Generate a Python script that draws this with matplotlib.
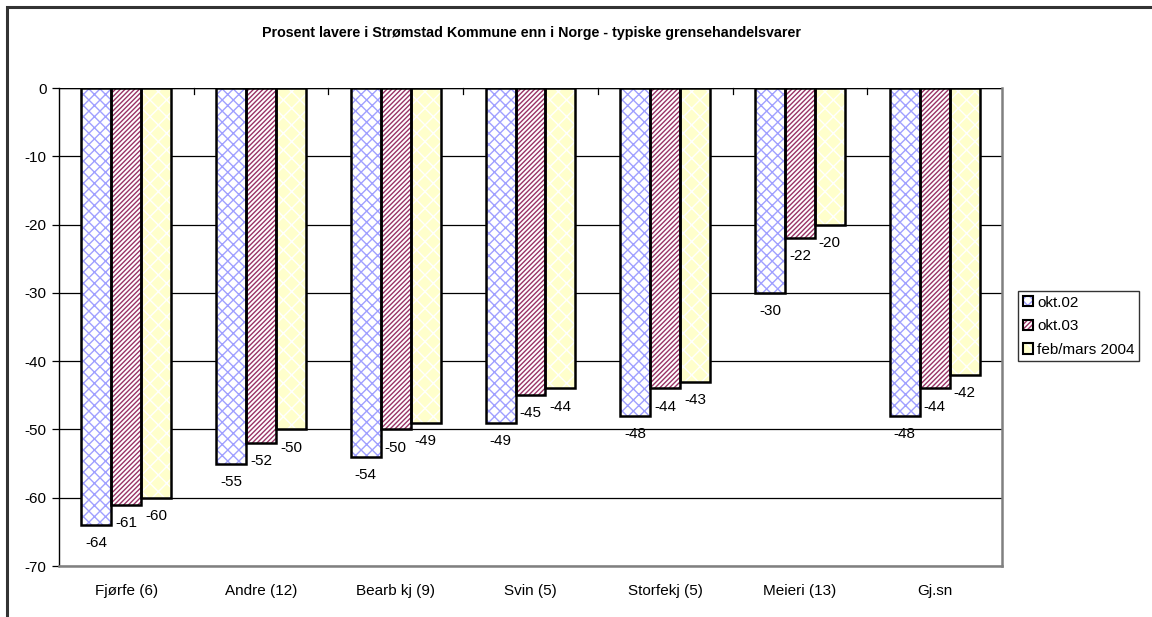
import matplotlib
matplotlib.use("Agg")
import matplotlib.pyplot as plt
import numpy as np
from matplotlib.patches import Rectangle, Patch
from matplotlib.legend_handler import HandlerTuple

plt.rcParams['font.family'] = ['Liberation Sans', 'DejaVu Sans']

categories = ["Fjørfe (6)", "Andre (12)", "Bearb kj (9)", "Svin (5)", "Storfekj (5)", "Meieri (13)", "Gj.sn"]
series_names = ["okt.02", "okt.03", "feb/mars 2004"]
okt02 = [-64, -55, -54, -49, -48, -30, -48]
okt03 = [-61, -52, -50, -45, -44, -22, -44]
feb04 = [-60, -50, -49, -44, -43, -20, -42]
title = "Prosent lavere i Strømstad Kommune enn i Norge - typiske grensehandelsvarer"

series = [okt02, okt03, feb04]
styles = [
    dict(facecolor="white", hatchcolor="#A0A0FF", hatch="xxx"),
    dict(facecolor="white", hatchcolor="#993366", hatch="///////"),
    dict(facecolor="#FFFFCC", hatchcolor="white", hatch="xx"),
]

W, H = 1152, 617
fig = plt.figure(figsize=(W / 100, H / 100), dpi=100)
fig.patch.set_facecolor("white")
# outer chart frame
fig.add_artist(Rectangle((7 / W, -0.05), 1.1, 1 - 7 / H + 0.05, transform=fig.transFigure,
                         fill=False, edgecolor="#333333", linewidth=2.2))

ax = fig.add_axes([59 / W, 1 - 566 / H, (1002 - 59) / W, (566 - 88) / H])
ax.set_xlim(0, len(categories))
ax.set_ylim(-70, 0)

x = np.arange(len(categories)) + 0.5
bw = 1 / 4.5
handles = []
plt.rcParams['hatch.linewidth'] = 1.0
for i, (vals, st, name) in enumerate(zip(series, styles, series_names)):
    xpos = x + (i - 1) * bw
    ax.bar(xpos, vals, width=bw, color=st["facecolor"], edgecolor=st["hatchcolor"],
           hatch=st["hatch"], linewidth=0, zorder=3)
    ax.bar(xpos, vals, width=bw, fill=False, edgecolor="black", linewidth=1.8, zorder=4)
    for xp, v in zip(xpos, vals):
        ax.annotate(f"{v}", (xp, v), xytext=(0, -8), textcoords="offset points",
                    ha="center", va="top", fontsize=11, zorder=6)
    p1 = Patch(facecolor=st["facecolor"], edgecolor=st["hatchcolor"], hatch=st["hatch"], linewidth=0)
    p2 = Patch(fill=False, edgecolor="black", linewidth=1.5)
    handles.append((p1, p2))

# gridlines
ax.set_yticks(np.arange(-70, 1, 10))
ax.yaxis.grid(True, color="black", linewidth=0.9, zorder=1)
ax.set_axisbelow(True)
ax.tick_params(axis="y", direction="out", length=5, width=0.9, labelsize=11, pad=4)
ax.set_yticklabels([str(v) for v in range(-70, 1, 10)])

# category labels at bottom without ticks
ax.set_xticks(x)
ax.set_xticklabels(categories, fontsize=11)
ax.tick_params(axis="x", length=0, pad=13)

# category boundary ticks along the zero line
for b in range(1, len(categories)):
    ax.plot([b, b], [0, -0.9], color="black", linewidth=0.9, zorder=2, clip_on=False)

for s in ["top", "right", "bottom"]:
    ax.spines[s].set_color("#808080")
    ax.spines[s].set_linewidth(1.8)
ax.spines["top"].set_visible(False)
ax.axhline(0, color="black", linewidth=1.0, zorder=2)
ax.spines["left"].set_color("black")
ax.spines["left"].set_linewidth(1.0)

fig.text(531 / W, 1 - 33 / H, title, ha="center", va="center", fontsize=10.3, fontweight="bold")

leg = fig.legend(handles, series_names, handler_map={tuple: HandlerTuple(ndivide=1, pad=0)},
                 loc="upper left", bbox_to_anchor=(1018 / W, 1 - 291 / H),
                 fontsize=11, frameon=True, fancybox=False, edgecolor="black",
                 handlelength=0.65, handleheight=0.65, handletextpad=0.3,
                 borderpad=0.3, labelspacing=0.63, borderaxespad=0)
leg.get_frame().set_linewidth(1.0)

fig.savefig("out.png", dpi=100)
